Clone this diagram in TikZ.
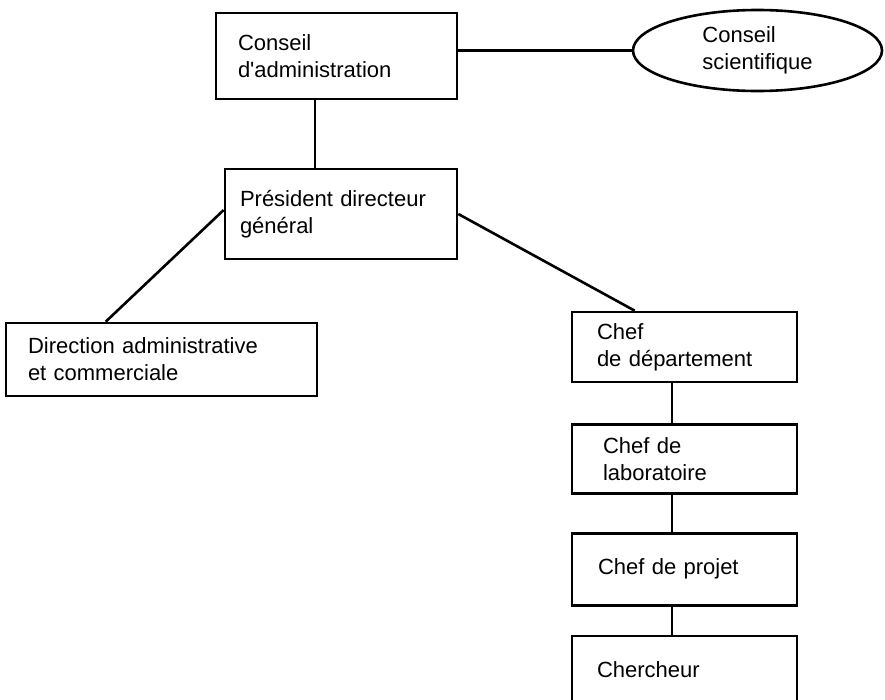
\documentclass[tikz,border=0pt]{standalone}
\usepackage{fontspec}
\setmainfont{Liberation Sans}[Ligatures=TeXOff]
\usetikzlibrary{shapes.geometric, positioning}

\begin{document}
\begin{tikzpicture}[x=1pt, y=-1pt, line width=2.6pt, node distance=40pt,
    font=\fontsize{22}{27}\selectfont]

  \tikzstyle{orgbox}=[draw=black, fill=white, align=left, inner ysep=0pt, inner xsep=22pt]
  \tikzstyle{council}=[draw=black, fill=white, ellipse, align=left, inner sep=0pt]

  \useasboundingbox (0,0) rectangle (885,699);

  \node[orgbox, text width=197pt, minimum height=86pt] (conseil) at (336.5,56) {Conseil\\d'administration};
  \node[council, minimum width=249pt, minimum height=81pt] (scientifique) at (757.5,50.5) {Conseil\\scientifique};
  \node[orgbox, inner xsep=15pt, text width=202pt, minimum height=90pt] (pdg) at (341,214) {Président directeur\\général};
  \node[orgbox, text width=267pt, minimum height=73pt] (direction) at (161.5,359.5) {Direction administrative\\et commerciale};
  \node[orgbox, inner xsep=25pt, text width=175pt, minimum height=70pt] (departement) at (684.5,347) {Chef\\de département};
  \node[orgbox, inner xsep=31pt, text width=163pt, minimum height=69pt] (laboratoire) [below=40pt of departement] {Chef de\\laboratoire};
  \node[orgbox, inner xsep=26pt, text width=173pt, minimum height=72pt] (projet) [below=37pt of laboratoire] {Chef de projet};
  \node[orgbox, inner xsep=25pt, text width=175pt, minimum height=68pt] (chercheur) [below=28pt of projet] {Chercheur};

  \path
    (conseil.east |- scientifique.west) edge (scientifique.west)
    ([xshift=-21.5pt]conseil.south) edge ([xshift=-21.5pt]conseil.south |- pdg.north)
    ([yshift=4pt]pdg.west) edge ([xshift=101pt]direction.north west)
    (pdg.east) edge ([xshift=64pt]departement.north west)
    ([xshift=-12.5pt]departement.south) edge ([xshift=-12.5pt]laboratoire.north)
    ([xshift=-12.5pt]laboratoire.south) edge ([xshift=-12.5pt]projet.north)
    ([xshift=-12.5pt]projet.south) edge ([xshift=-12.5pt]chercheur.north);

\end{tikzpicture}
\end{document}
